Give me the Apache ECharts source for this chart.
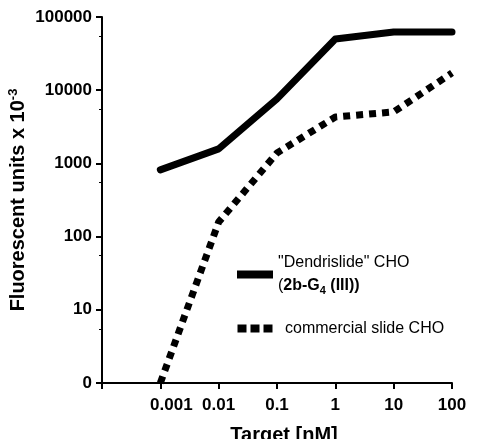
<!DOCTYPE html>
<meta charset="utf-8">
<style>
html, body { margin: 0; padding: 0; background: #fff; }
#main { width: 481px; height: 439px; }
</style>
<div id="main"></div>
<script src="https://cdn.jsdelivr.net/npm/echarts@6/dist/echarts.min.js"></script>
<script>
// target concentrations (nM), log x axis
var targets = [0.001, 0.01, 0.1, 1, 10, 100];
// fluorescent units x 10^-3 ("0" on the axis is the 1 of the log scale)
var dendrislide = [815, 1580, 7600, 50000, 62500, 62500];
var commercial = [1, 158, 1390, 4300, 5050, 17200];
var xTickLabels = ['', '0.001', '0.01', '0.1', '1', '10', '100'];
var seriesNames = ['dendrislide', 'commercial'];

var font = 'Liberation Sans, Arial, sans-serif';

function pairs(ys) {
    return targets.map(function (x, i) { return [x, ys[i]]; });
}

var chart = echarts.init(document.getElementById('main'));

chart.setOption({
    animation: false,
    grid: { left: 102, right: 29, top: 17, bottom: 56, outerBoundsMode: 'none', containLabel: false },
    legend: {
        orient: 'vertical',
        left: 232,
        top: 250,
        itemWidth: 36,
        itemHeight: 8,
        itemGap: 24,
        data: [
            { name: 'dendrislide', icon: 'rect' },
            { name: 'commercial', icon: 'path://M0,0h9v8h-9z M13,0h9v8h-9z M26,0h9v8h-9z' }
        ],
        formatter: function (name) {
            if (name === 'dendrislide') {
                return '{q|"Dendrislide" CHO}\n{q|(}{b|2b-G}{s|4}{b| (III))}';
            }
            return '{c|commercial slide CHO}';
        },
        textStyle: {
            fontFamily: font,
            fontSize: 16,
            color: '#000',
            rich: {
                q: { fontFamily: font, fontSize: 16, lineHeight: 23, color: '#000' },
                b: { fontFamily: font, fontSize: 16, fontWeight: 'bold', lineHeight: 23, color: '#000' },
                s: { fontFamily: font, fontSize: 11, fontWeight: 'bold', color: '#000', padding: [10, 0, 0, 0] },
                c: { fontFamily: font, fontSize: 16, lineHeight: 23, color: '#000', padding: [0, 0, 0, 7] }
            }
        }
    },
    xAxis: {
        type: 'log',
        logBase: 10,
        min: 0.0001,
        max: 100,
        name: 'Target [nM]',
        nameLocation: 'middle',
        nameGap: 42,
        nameMoveOverlap: false,
        nameTextStyle: {
            fontFamily: font, fontSize: 20, fontWeight: 'bold', color: '#000',
            padding: [0, 0, 0, 14]
        },
        axisLine: { show: true, lineStyle: { color: '#000', width: 2 } },
        axisTick: { show: true, inside: false, length: 6, lineStyle: { color: '#000', width: 2 } },
        splitLine: { show: false },
        axisLabel: {
            margin: 14,
            fontFamily: font, fontSize: 17, fontWeight: 'bold', color: '#000',
            formatter: function (v) {
                var i = Math.round(Math.log10(v)) + 4;
                var t = xTickLabels[i] || '';
                return i === 1 ? '{f|' + t + '}' : t;
            },
            rich: {
                f: { fontFamily: font, fontSize: 17, fontWeight: 'bold', color: '#000', padding: [0, 0, 0, 22] }
            }
        }
    },
    yAxis: {
        type: 'log',
        logBase: 10,
        min: 1,
        max: 100000,
        name: 'Fluorescent units x 10{sup|-3}',
        nameLocation: 'middle',
        nameGap: 72,
        nameMoveOverlap: false,
        nameTextStyle: {
            fontFamily: font, fontSize: 20, fontWeight: 'bold', color: '#000',
            rich: {
                sup: { fontFamily: font, fontSize: 13, fontWeight: 'bold', color: '#000', padding: [0, 0, 10, 0] }
            }
        },
        axisLine: { show: true, lineStyle: { color: '#000', width: 2 } },
        axisTick: { show: true, inside: false, length: 6, lineStyle: { color: '#000', width: 2 } },
        minorTick: { show: true, splitNumber: 2, length: 3, lineStyle: { color: '#000', width: 1 } },
        splitLine: { show: false },
        axisLabel: {
            margin: 10,
            fontFamily: font, fontSize: 17, fontWeight: 'bold', color: '#000',
            formatter: function (v) { return v === 1 ? '0' : String(v); }
        }
    },
    series: [
        {
            name: 'dendrislide',
            type: 'line',
            data: pairs(dendrislide),
            symbol: 'none',
            lineStyle: { color: '#000', width: 7, cap: 'round', join: 'round' },
            itemStyle: { color: '#000' }
        },
        {
            name: 'commercial',
            type: 'line',
            data: pairs(commercial),
            symbol: 'none',
            lineStyle: { color: '#000', width: 7, type: [7, 6], cap: 'butt' },
            itemStyle: { color: '#000' }
        }
    ]
});
</script>
